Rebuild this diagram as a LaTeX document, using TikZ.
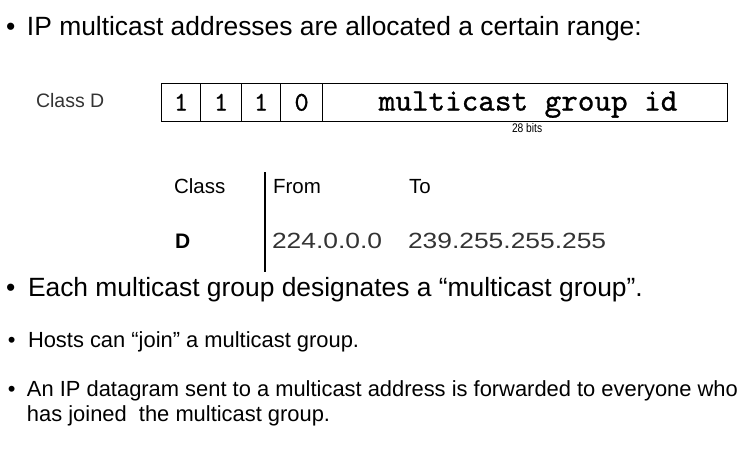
\documentclass[tikz,border=0pt]{standalone}
\usepackage{fontspec}
\setmainfont{Liberation Sans}
\newfontfamily\monofont[FakeBold=0.9]{lmmono10-regular.otf}
\newfontfamily\widesans[FakeStretch=1.2]{Liberation Sans}
\newfontfamily\narrowsans[FakeStretch=0.82]{Liberation Sans}
\definecolor{dgray}{HTML}{333333}
\begin{document}
\begin{tikzpicture}[x=1pt,y=-1pt,
  txt/.style={anchor=base west,inner sep=0pt,outer sep=0pt},
  big/.style={txt,font=\fontsize{26.4}{30}\selectfont},
  small/.style={txt,font=\fontsize{21.9}{26}\selectfont},
  cell/.style={draw,line width=1.2pt,anchor=north west,inner sep=0pt,minimum height=38pt,text height=16pt,text depth=0pt},
  digit/.style={cell,font=\monofont\fontsize{27}{30}\selectfont},
  lbl/.style={txt,font=\fontsize{20.5}{24}\selectfont},
  num/.style={txt,font=\widesans\fontsize{22}{26}\selectfont,text=dgray}]
\useasboundingbox (0,0) rectangle (755,456);
% title
\node[big] (b1) at (6,35) {•};
\node[big] (t1) at (27,35) {IP multicast addresses are allocated a certain range:};
% class D format
\node[txt,font=\fontsize{19.5}{24}\selectfont,text=dgray] (cd) at (36,107) {Class D};
\node[digit,minimum width=39pt] (c1) at (161,83) {1};
\node[digit,minimum width=41pt] (c2) at (200,83) {1};
\node[digit,minimum width=39pt] (c3) at (241,83) {1};
\node[digit,minimum width=42pt] (c4) at (280,83) {0};
\node[cell,minimum width=405pt,font=\monofont\fontsize{31.6}{34}\selectfont] (c5) at (322,83) {\hspace{6pt}multicast group id};
\node[txt,font=\narrowsans\fontsize{12.5}{14}\selectfont] (bits) at (512,132) {28 bits};
% table
\node[lbl] (hc) at (174,193) {Class};
\node[lbl] (hf) at (273,193) {From};
\node[lbl] (ht) at (409,193) {To};
\node[txt,font=\bfseries\fontsize{21}{24}\selectfont] (rd) at (175,248) {D};
\node[num] (rf) at (272,248) {224.0.0.0};
\node[num] (rt) at (408,248) {239.255.255.255};
\coordinate (vt) at (265,172);
\coordinate (vb) at (265,272);
\draw[line width=2pt] (vt) -- (vb);
% bullets
\node[big] (b2) at (6,296) {•};
\node[big] (t2) at (28,296) {Each multicast group designates a “multicast group”.};
\node[small] (b3) at (8,347) {•};
\node[small] (t3) at (28,347) {Hosts can “join” a multicast group.};
\node[small] (b4) at (8,396) {•};
\node[small] (t4) at (27,396) {An IP datagram sent to a multicast address is forwarded to everyone who};
\node[small] (t5) at (27,421) {has joined~ the multicast group.};
\end{tikzpicture}
\end{document}
